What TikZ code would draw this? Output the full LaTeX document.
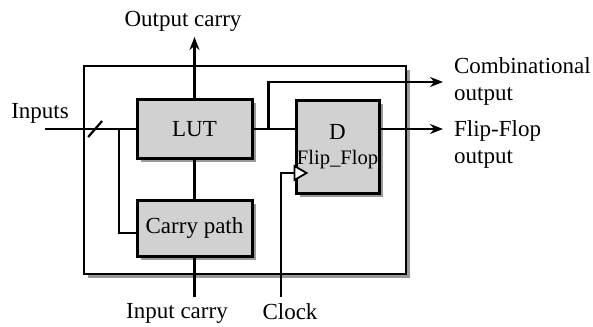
\documentclass[tikz,border=0pt]{standalone}
\usepackage{fontspec}
\setmainfont{Liberation Serif}
\usetikzlibrary{arrows.meta,positioning,calc,shadows}

\begin{document}
\begin{tikzpicture}[
   x=0.5pt, y=-0.5pt,
   >={Stealth[length=6.5pt,width=5pt]}, line width=1.1pt,
   font=\fontsize{11.5}{13.5}\selectfont,
   dshadow/.style={drop shadow={shadow xshift=1.8pt,shadow yshift=-1.8pt,
                   fill=black!40,opacity=1}},
   blk/.style={draw,line width=1.5pt,fill=black!18,dshadow,inner sep=0pt,
               align=center},
   cellbox/.style={draw,line width=1.3pt,fill=white,dshadow,inner sep=0pt},
   wire/.style={line width=1.1pt},
   sig/.style={->,line width=1.1pt},
   txt/.style={inner sep=0pt,align=left},
   ]
\useasboundingbox (0,0) rectangle (593,326);
%% Outer logic cell
\node[cellbox,minimum width=161pt,minimum height=104pt] (cell) at (245,170) {};
%% Blocks
\node[blk,minimum width=57.5pt,minimum height=29.5pt] (lut)   at (194.5,129) {LUT};
\node[blk,minimum width=57.5pt,minimum height=28pt]   (carry) at (194.5,228) {Carry path};
\node[blk,minimum width=41.5pt,minimum height=46.5pt] (ff) at (337.5,146.5)
     {\raisebox{5pt}{\begin{tabular}{@{}c@{}}D\\[-1pt]
      {\fontsize{10.3}{12}\selectfont Flip\_Flop}\end{tabular}}};
%% Free ends
\coordinate (in)  at (45,129);
\coordinate (oc)  at (194.5,37);
\coordinate (ic)  at (194.5,297);
\coordinate (clk) at (281,297);
\coordinate (co)  at (443,82);
\coordinate (fo)  at (443,129);
%% Inputs bus
\draw[wire] (in) -- coordinate[pos=0.554] (bus) coordinate[pos=0.815] (br) (lut.west);
\draw[wire] ($(bus)+(-7,8)$) -- ($(bus)+(7,-8)$);
\draw[wire] (br) |- ([yshift=-2.5pt]carry.west);
%% Carry chain
\draw[wire] (lut.south) -- (carry.north);
\draw[sig] (lut.north) -- (oc);
\draw[wire] (ic) -- (carry.south);
%% LUT to flip-flop and outputs
\draw[wire] (lut.east) -- coordinate[pos=0.364] (cb) (lut.east -| ff.west);
\draw[sig] (cb) |- (co);
\draw[sig] (ff.east |- fo) -- (fo);
%% Clock
\path (ff.west) ++(0,26.5) coordinate (ckin);
\draw[wire] (clk) |- (ckin);
\draw[fill=white,line width=0.9pt] (ckin) ++(0,-7) -- ++(12,7) -- ++(-12,7) -- cycle;
%% Labels
\node (inl)  at (40,113)  {Inputs};
\node (ocl)  at (183,21)  {Output carry};
\node (icl)  at (177,313) {Input carry};
\node (clkl) at (290,312) {Clock};
\node[txt,anchor=west]       (col) at (453,81)  {Combinational\\output};
\node[txt,anchor=north west] (fol) at (453,119) {Flip-Flop\\output};
\end{tikzpicture}
\end{document}
